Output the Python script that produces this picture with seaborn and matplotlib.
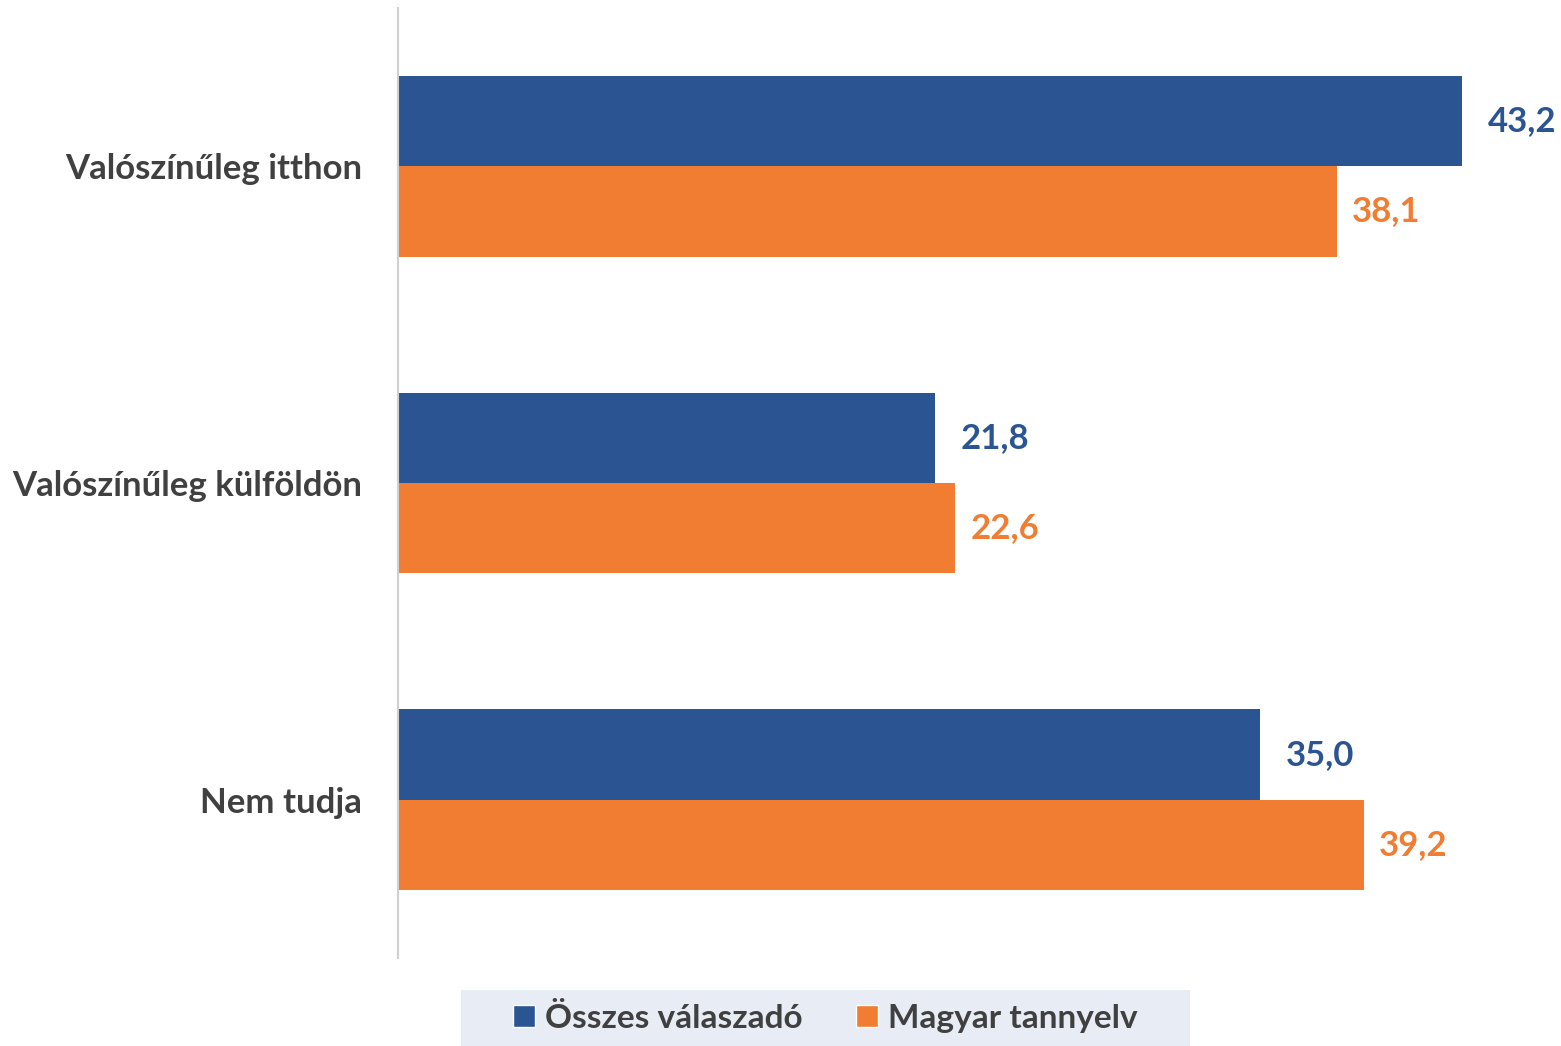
import seaborn as sns
import pandas as pd
import matplotlib.pyplot as plt
from matplotlib.patches import Patch, Rectangle

# values
categories = ['Valószínűleg itthon', 'Valószínűleg külföldön', 'Nem tudja']
osszes = [43.2, 21.8, 35.0]
magyar = [38.1, 22.6, 39.2]
series_names = ['Összes válaszadó', 'Magyar tannyelv']

blue = '#2B5592'
orange = '#F07D32'
text_grey = '#404040'

df = pd.DataFrame({
    'Kategória': categories * 2,
    'Érték': osszes + magyar,
    'Csoport': [series_names[0]] * 3 + [series_names[1]] * 3,
})

sns.set_style('white')
plt.rcParams['font.family'] = ['Lato', 'DejaVu Sans']

fig = plt.figure(figsize=(15.61, 10.46), dpi=100)
ax = fig.add_axes([0.255, 0.0841, 0.745, 0.9083])

sns.barplot(data=df, y='Kategória', x='Érték', hue='Csoport', orient='h',
            palette=[blue, orange], width=0.57, gap=0, saturation=1,
            linewidth=0, ax=ax, legend=False)

ax.set_xlim(0, 47.2)
ax.set_ylim(2.5, -0.5)
ax.set_xlabel('')
ax.set_ylabel('')
ax.set_xticks([])
for s in ['top', 'right', 'bottom']:
    ax.spines[s].set_visible(False)
ax.spines['left'].set_color('#D0D0D0')
ax.spines['left'].set_linewidth(1.5)
ax.tick_params(axis='y', length=0, pad=26, labelsize=25, labelcolor=text_grey)
for t in ax.get_yticklabels():
    t.set_fontweight('bold')

# value labels with comma decimal separator
for cont, col, pad in zip(ax.containers, [blue, orange], [18, 11]):
    labels = [f'{b.get_width():.1f}'.replace('.', ',') for b in cont]
    ax.bar_label(cont, labels=labels, padding=pad, color=col,
                 fontsize=25, fontweight='bold')

# grey legend band, cut off at the bottom edge like the original
fig.patches.append(Rectangle((0.2953, 0), 0.467, 0.0535, transform=fig.transFigure,
                             facecolor='#E8ECF4', edgecolor='none', zorder=0))

handles = [Patch(facecolor=blue), Patch(facecolor=orange)]
leg = fig.legend(handles, series_names, loc='center',
                 bbox_to_anchor=(0.5288, 0.0268), ncol=2, frameon=False,
                 prop={'size': 24, 'weight': 'bold'},
                 handlelength=0.65, handleheight=0.65, handletextpad=0.3,
                 columnspacing=1.6, borderpad=0, borderaxespad=0)
for t in leg.get_texts():
    t.set_color(text_grey)

fig.savefig('out.png', dpi=100)
